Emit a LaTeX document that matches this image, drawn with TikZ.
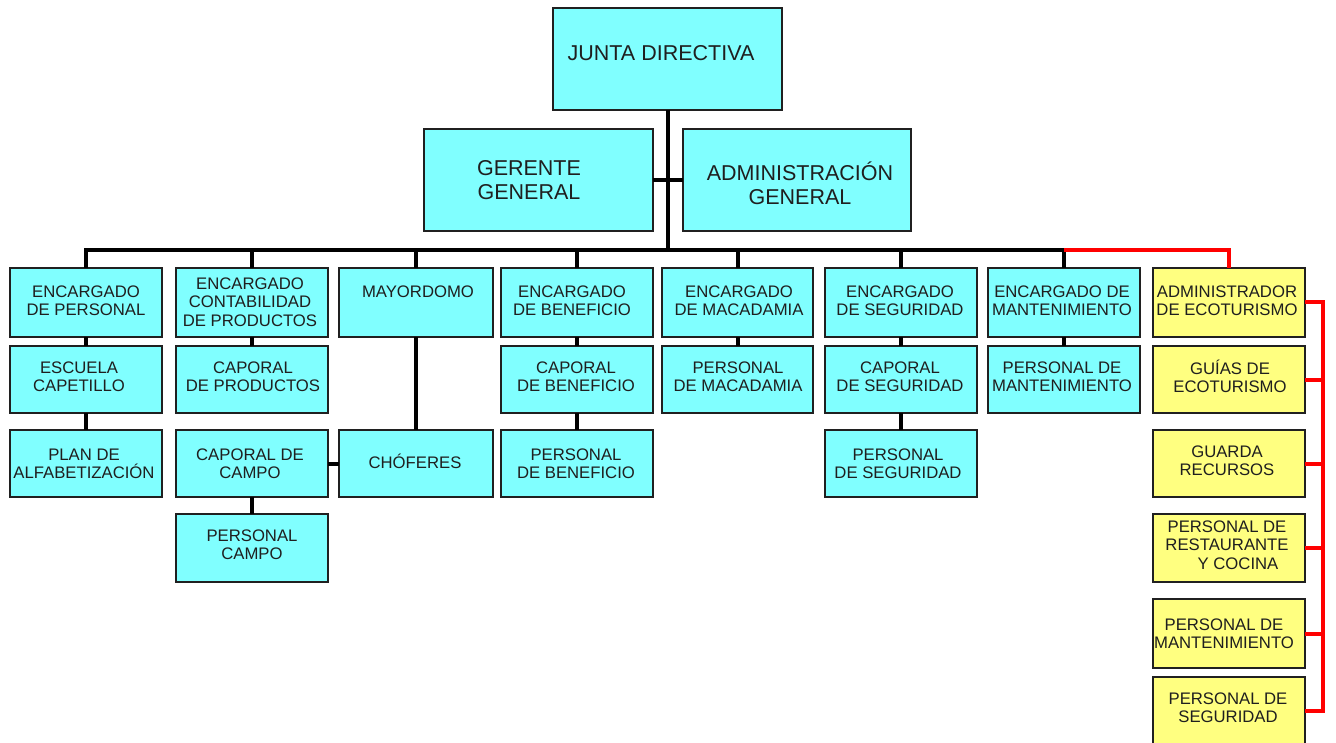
\documentclass[tikz,border=0pt]{standalone}
\usepackage{fontspec}
\setmainfont{Liberation Sans}
\definecolor{cyanbox}{HTML}{80FFFF}
\definecolor{yelbox}{HTML}{FFFF80}
\definecolor{edge}{HTML}{202020}
\definecolor{redline}{HTML}{FF0000}
\newcommand\bx[6]{\node[#6, anchor=north west, minimum width=#4pt, minimum height=#5pt] (#1) at (#2,#3) {};}
\begin{document}
\begin{tikzpicture}[x=1pt, y=-1pt,
  cbox/.style={draw=edge, line width=1.3pt, fill=cyanbox, inner sep=0pt, outer sep=0pt},
  ybox/.style={draw=edge, line width=1.3pt, fill=yelbox, inner sep=0pt, outer sep=0pt},
  txt/.style={align=center, inner sep=0pt, text=black!88,
     font={\fontsize{16.7}{18.5}\selectfont\lineskiplimit=-100pt}},
  bigtxt/.style={align=center, inner sep=0pt, text=black!88,
     font={\fontsize{21.5}{24}\selectfont\lineskiplimit=-100pt}},
  conn/.style={line width=4pt, draw=black},
  rconn/.style={line width=4pt, draw=redline}]
\useasboundingbox[fill=white] (0,0) rectangle (1336,743);

% connectors (drawn first)
\coordinate (bus) at (668,250);
\coordinate (rv) at (1323,300);

% top boxes
\bx{jd}{553}{8}{229}{102}{cbox}
\bx{gg}{424}{129}{229}{102}{cbox}
\bx{ag}{683}{129}{228}{102}{cbox}

% column boxes
\bx{a1}{10}{268}{152}{69}{cbox}
\bx{a2}{10}{346}{152}{67}{cbox}
\bx{a3}{10}{430}{152}{67}{cbox}
\bx{b1}{176}{268}{152}{69}{cbox}
\bx{b2}{176}{346}{152}{67}{cbox}
\bx{b3}{176}{430}{152}{67}{cbox}
\bx{b4}{176}{514}{152}{68}{cbox}
\bx{c1}{339}{268}{154}{69}{cbox}
\bx{c3}{339}{430}{154}{67}{cbox}
\bx{d1}{501}{268}{152}{69}{cbox}
\bx{d2}{501}{346}{152}{67}{cbox}
\bx{d3}{501}{430}{152}{67}{cbox}
\bx{e1}{662}{268}{151}{69}{cbox}
\bx{e2}{662}{346}{151}{67}{cbox}
\bx{f1}{825}{268}{152}{69}{cbox}
\bx{f2}{825}{346}{152}{67}{cbox}
\bx{f3}{825}{430}{152}{67}{cbox}
\bx{g1}{988}{268}{152}{69}{cbox}
\bx{g2}{988}{346}{152}{67}{cbox}
\bx{h1}{1153}{268}{152}{69}{ybox}
\bx{h2}{1153}{346}{152}{67}{ybox}
\bx{h3}{1153}{430}{152}{67}{ybox}
\bx{h4}{1153}{514}{152}{68}{ybox}
\bx{h5}{1153}{599}{152}{69}{ybox}
\bx{h6}{1153}{677}{152}{68}{ybox}

% black connectors
\draw[conn] (jd.south -| bus) -- (bus);
\draw[conn] (gg.east) -- (ag.east -| gg.east) -- (ag.west);
\draw[conn, line cap=rect] (a1.north |- bus) -- (g1.north |- bus);
\foreach \n in {a1,b1,c1,d1,e1,f1,g1} \draw[conn] (\n.north |- bus) -- (\n.north);
\draw[conn] (a1.south) -- (a2.north);
\draw[conn] (a2.south) -- (a3.north);
\draw[conn] (b1.south) -- (b2.north);
\draw[conn] (b3.south) -- (b4.north);
\draw[conn] (b3.east) -- (c3.west);
\draw[conn] (c1.south) -- (c3.north);
\draw[conn] (d1.south) -- (d2.north);
\draw[conn] (d2.south) -- (d3.north);
\draw[conn] (e1.south) -- (e2.north);
\draw[conn] (f1.south) -- (f2.north);
\draw[conn] (f2.south) -- (f3.north);
\draw[conn] (g1.south) -- (g2.north);

% red connectors
\draw[rconn] (g1.north |- bus) -| (h1.north);
\draw[rconn] (h1.east) -- (rv |- h1.east) -- (rv |- h6.east) -- (h6.east);
\foreach \n in {h2,h3,h4,h5} \draw[rconn] (\n.east) -- (rv |- \n.east);

% texts
\node[bigtxt] (jdt) at (661,56) {\strut JUNTA DIRECTIVA};
\node[bigtxt] (ggt) at (529,183) {\strut GERENTE\\\strut GENERAL};
\node[bigtxt] (agt) at (800,187) {\strut ADMINISTRACIÓN\\\strut GENERAL};

\node[txt] (a1t) at (86,303) {\strut ENCARGADO\\\strut DE PERSONAL};
\node[txt] (a2t) at (79,379) {\strut ESCUELA\\\strut CAPETILLO};
\node[txt] (a3t) at (84,466) {\strut PLAN DE\\\strut ALFABETIZACIÓN};
\node[txt] (b1t) at (250,304) {\strut ENCARGADO\\\strut CONTABILIDAD\\\strut DE PRODUCTOS};
\node[txt] (b2t) at (253,379) {\strut CAPORAL\\\strut DE PRODUCTOS};
\node[txt] (b3t) at (250,466) {\strut CAPORAL DE\\\strut CAMPO};
\node[txt] (b4t) at (252,547) {\strut PERSONAL\\\strut CAMPO};
\node[txt] (c1t) at (418,294) {\strut MAYORDOMO};
\node[txt] (c3t) at (415,464) {\strut CHÓFERES};
\node[txt] (d1t) at (572,303) {\strut ENCARGADO\\\strut DE BENEFICIO};
\node[txt] (d2t) at (576,379) {\strut CAPORAL\\\strut DE BENEFICIO};
\node[txt] (d3t) at (576,466) {\strut PERSONAL\\\strut DE BENEFICIO};
\node[txt] (e1t) at (739,303) {\strut ENCARGADO\\\strut DE MACADAMIA};
\node[txt] (e2t) at (738,379) {\strut PERSONAL\\\strut DE MACADAMIA};
\node[txt] (f1t) at (900,303) {\strut ENCARGADO\\\strut DE SEGURIDAD};
\node[txt] (f2t) at (900,379) {\strut CAPORAL\\\strut DE SEGURIDAD};
\node[txt] (f3t) at (898,466) {\strut PERSONAL\\\strut DE SEGURIDAD};
\node[txt] (g1t) at (1062,303) {\strut ENCARGADO DE\\\strut MANTENIMIENTO};
\node[txt] (g2t) at (1062,379) {\strut PERSONAL DE\\\strut MANTENIMIENTO};
\node[txt] (h1t) at (1227,303) {\strut ADMINISTRADOR\\\strut DE ECOTURISMO};
\node[txt] (h2t) at (1230,379) {\strut GUÍAS DE\\\strut ECOTURISMO};
\node[txt] (h3t) at (1227,463) {\strut GUARDA\\\strut RECURSOS};
\node[txt] (h4t) at (1227,547) {\strut PERSONAL DE\\\strut RESTAURANTE\\\strut\hspace*{22pt}Y COCINA};
\node[txt] (h5t) at (1224,636) {\strut PERSONAL DE\\\strut MANTENIMIENTO};
\node[txt] (h6t) at (1228,710) {\strut PERSONAL DE\\\strut SEGURIDAD};
\end{tikzpicture}
\end{document}
